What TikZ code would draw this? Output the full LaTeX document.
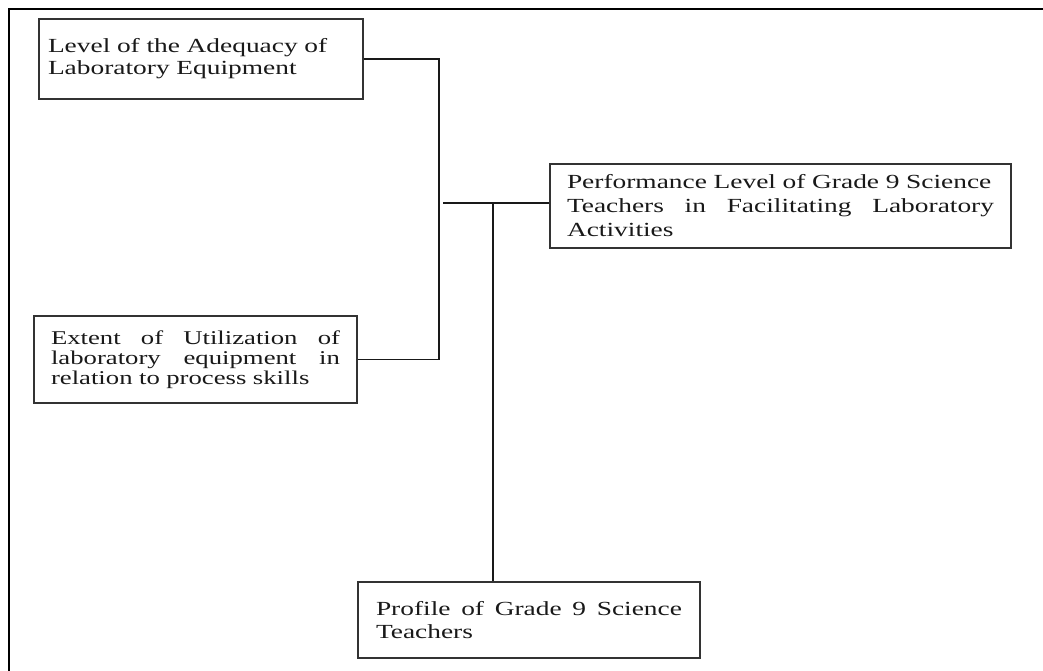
\documentclass[tikz,border=0pt]{standalone}
\usepackage{fontspec}
\setmainfont{Liberation Serif}[FakeStretch=1.37]
\newcommand{\JustLine}[2]{\leavevmode\hbox to #1{#2}}
\begin{document}
\begin{tikzpicture}[x=1pt,y=-1pt,
  box/.style={draw=black!80, line width=1.2pt, rectangle, inner sep=0pt,
    align=left, text=black!90},
  conn/.style={draw=black!90, line width=1.5pt},
  frame/.style={draw=black, line width=2.4pt}]
\useasboundingbox (0,0) rectangle (1043,671);
\draw[frame] (9,672) -- (9,9) -- (1044,9);

% boxes (centre, size)
\node[box, minimum width=324pt, minimum height=80pt, text width=306pt,
  font=\fontsize{20}{22}\selectfont] (b1) at (201,59)
  {Level of the Adequacy of\\Laboratory Equipment};

\node[box, minimum width=323pt, minimum height=87pt, text width=289pt,
  font=\fontsize{19.5}{20}\selectfont] (b2) at (195.5,359.5)
  {\JustLine{289pt}{Extent\hfill of\hfill Utilization\hfill of}\\
   \JustLine{289pt}{laboratory\hfill equipment\hfill in}\\
   relation to process skills};

\node[box, minimum width=461pt, minimum height=84pt, text width=427pt,
  font=\fontsize{20}{24}\selectfont] (b3) at (780.5,206)
  {Performance Level of Grade 9 Science\\
   \JustLine{427pt}{Teachers\hfill in\hfill Facilitating\hfill Laboratory}\\
   Activities};

\node[box, minimum width=342pt, minimum height=76pt, text width=306pt,
  font=\fontsize{20}{23}\selectfont] (b4) at (529,620)
  {\JustLine{306pt}{Profile\hfill of\hfill Grade\hfill 9\hfill Science}\\
   Teachers};

% connectors
\coordinate (vx) at (439,0);
\coordinate (h0) at (443,203);
\coordinate (t) at (493,203);
\draw[conn] (b1.east) -| (vx |- b2.east) -- (b2.east);
\draw[conn] (h0) -- (h0 -| b3.west);
\draw[conn] (t) -- (t |- b4.north);
\end{tikzpicture}
\end{document}
